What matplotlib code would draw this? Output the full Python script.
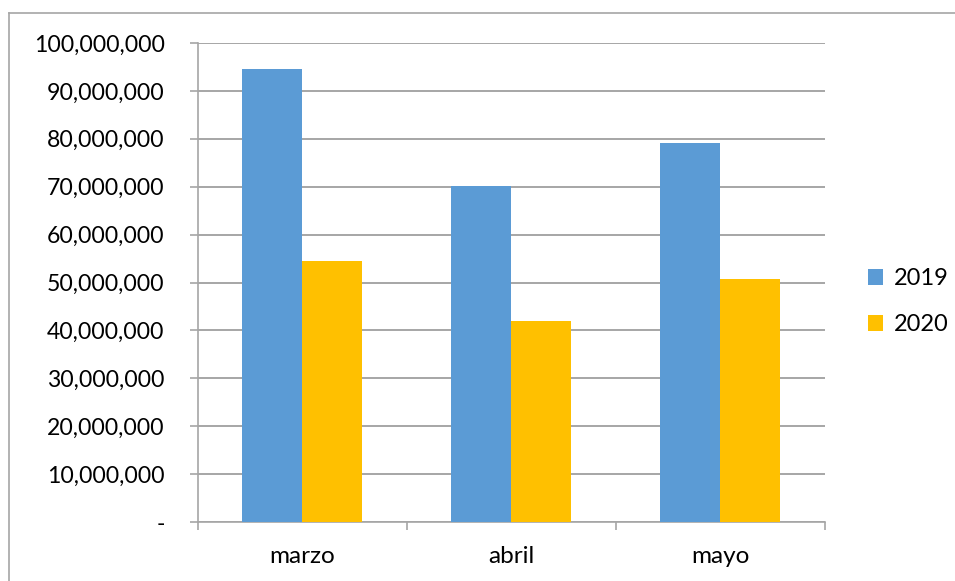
import matplotlib.pyplot as plt
import numpy as np
from matplotlib.lines import Line2D
from matplotlib.ticker import FuncFormatter, MultipleLocator

# Datos del gráfico
meses = ['marzo', 'abril', 'mayo']
anios = ['2019', '2020']
valores_2019 = [94500000, 70100000, 79200000]
valores_2020 = [54400000, 41900000, 50700000]
colores = ['#5B9BD5', '#FFC000']

plt.rcParams['font.family'] = ['Lato', 'DejaVu Sans']

fig = plt.figure(figsize=(9.55, 5.81), dpi=100)
ax = fig.add_axes([0.2073, 0.1015, 0.6565, 0.8245])

x = np.arange(len(meses))
ancho = 0.287
ax.bar(x - ancho / 2, valores_2019, ancho, color=colores[0], label=anios[0], zorder=3)
ax.bar(x + ancho / 2, valores_2020, ancho, color=colores[1], label=anios[1], zorder=3)

ax.set_xlim(-0.5, len(meses) - 0.5)
ax.set_ylim(0, 100000000)
ax.yaxis.set_major_locator(MultipleLocator(10000000))
ax.yaxis.set_major_formatter(FuncFormatter(lambda v, p: '-' if v == 0 else f'{v:,.0f}'))

# ticks de categoría en los bordes
ax.set_xticks(np.arange(-0.5, len(meses)), minor=False)
ax.set_xticklabels([])
ax.set_xticks(x, minor=True)
ax.set_xticklabels(meses, minor=True)
ax.tick_params(axis='x', which='major', length=6, width=1.2, color='#A6A6A6')
ax.tick_params(axis='x', which='minor', length=0, pad=17, labelsize=17.5)
ax.tick_params(axis='y', length=6, width=1.2, color='#A6A6A6', pad=18, labelsize=16.6)

ax.grid(axis='y', color='#A6A6A6', linewidth=1.4, zorder=0)
for lado in ['top', 'right']:
    ax.spines[lado].set_visible(False)
for lado in ['left', 'bottom']:
    ax.spines[lado].set_color('#A6A6A6')
    ax.spines[lado].set_linewidth(1.2)

ax.legend(loc='center left', bbox_to_anchor=(1.035, 0.46), frameon=False,
          fontsize=17, handlelength=0.65, handleheight=0.65, handletextpad=0.45,
          labelspacing=1.05)

# borde exterior del gráfico (solo arriba e izquierda visibles)
y_top = 1 - 13 / 581
x_left = 9 / 955
fig.add_artist(Line2D([x_left, 1.0], [y_top, y_top], color='#A6A6A6', linewidth=1.2))
fig.add_artist(Line2D([x_left, x_left], [0, y_top], color='#A6A6A6', linewidth=1.2))

fig.savefig('out.png', dpi=100)
